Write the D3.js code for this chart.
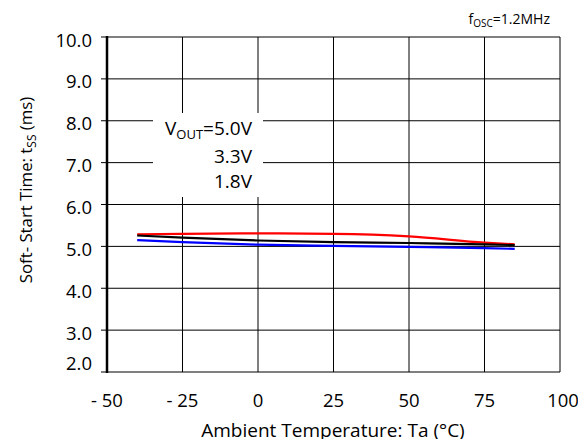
<!DOCTYPE html>
<html><head><meta charset="utf-8">
<script src="https://cdn.jsdelivr.net/npm/d3@7"></script>
<style>body{margin:0;background:#fff}svg{display:block}text{font-family:"Open Sans",sans-serif;fill:#000}</style>
</head><body><svg id="c" width="578" height="439"></svg>
<script>
const temps = [-40, -25, 0, 25, 50, 75, 85];
const v50 = [5.29, 5.30, 5.31, 5.30, 5.24, 5.09, 5.05];
const v33 = [5.26, 5.21, 5.14, 5.10, 5.08, 5.05, 5.03];
const v18 = [5.15, 5.10, 5.04, 5.01, 4.99, 4.96, 4.94];
const xTicks = [-50, -25, 0, 25, 50, 75, 100];
const xTickLabels = ["- 50", "- 25", "0", "25", "50", "75", "100"];
const yTicks = [2, 3, 4, 5, 6, 7, 8, 9, 10];
const series = [
  {name: "5.0V", values: v50, color: "#ff0000"},
  {name: "3.3V", values: v33, color: "#000000"},
  {name: "1.8V", values: v18, color: "#0000ff"}
];

const svg = d3.select("#c");
const L = 107, R = 560, T = 37, B = 372;
const x = d3.scaleLinear().domain([-50, 100]).range([L, R]);
const y = d3.scaleLinear().domain([2, 10]).range([B, T]);

// grid
svg.append("g").selectAll("line").data(xTicks.slice(1)).join("line")
  .attr("x1", d => x(d)).attr("x2", d => x(d)).attr("y1", T).attr("y2", B)
  .attr("stroke", "#000").attr("stroke-width", 1);
svg.append("g").selectAll("line").data(yTicks).join("line")
  .attr("x1", L - 6).attr("x2", R).attr("y1", d => y(d)).attr("y2", d => y(d))
  .attr("stroke", "#000").attr("stroke-width", 1);
// left axis thick
svg.append("line").attr("x1", L).attr("x2", L).attr("y1", T - 1).attr("y2", B + 1)
  .attr("stroke", "#000").attr("stroke-width", 2.5);

// legend box (white) covering grid
svg.append("rect").attr("x", 153).attr("y", 113).attr("width", 110).attr("height", 84).attr("fill", "#fff");
const lg = svg.append("g").attr("font-size", 19);
const t1 = lg.append("text").attr("x", 252).attr("y", 135).attr("text-anchor", "end");
t1.append("tspan").text("V");
t1.append("tspan").attr("font-size", 13).attr("dy", 4).text("OUT");
t1.append("tspan").attr("dy", -4).text("=5.0V");
lg.append("text").attr("x", 252).attr("y", 163).attr("text-anchor", "end").text("3.3V");
lg.append("text").attr("x", 252).attr("y", 188).attr("text-anchor", "end").text("1.8V");

// lines
const line = d3.line().x((d, i) => x(temps[i])).y(d => y(d)).curve(d3.curveMonotoneX);
svg.append("g").selectAll("path").data(series).join("path")
  .attr("d", d => line(d.values)).attr("fill", "none")
  .attr("stroke", d => d.color).attr("stroke-width", 2.2);

// tick labels
svg.append("g").selectAll("text").data(yTicks).join("text")
  .attr("x", 92).attr("y", d => y(d) + (d === 2 ? -2.5 : 9.5)).attr("text-anchor", "end")
  .attr("font-size", 18.5).text(d => d.toFixed(1));
svg.append("g").selectAll("text").data(xTicks).join("text")
  .attr("x", d => x(d) + (d === 100 ? 3 : 0)).attr("y", 407).attr("text-anchor", "middle")
  .attr("font-size", 18.5).text((d, i) => xTickLabels[i]);

// axis titles
svg.append("text").attr("x", 333).attr("y", 437).attr("text-anchor", "middle")
  .attr("font-size", 19).text("Ambient Temperature: Ta (°C)");
const yl = svg.append("text").attr("transform", "translate(32,190) rotate(-90)")
  .attr("text-anchor", "middle").attr("font-size", 16.8);
yl.append("tspan").text("Soft- Start Time: t");
yl.append("tspan").attr("font-size", 12).attr("dy", 4).text("SS");
yl.append("tspan").attr("dy", -4).text(" (ms)");

// fosc
const f = svg.append("text").attr("x", 550).attr("y", 24).attr("text-anchor", "end").attr("font-size", 14);
f.append("tspan").text("f");
f.append("tspan").attr("font-size", 10).attr("dy", 3).text("OSC");
f.append("tspan").attr("dy", -3).text("=1.2MHz");
</script></body></html>
